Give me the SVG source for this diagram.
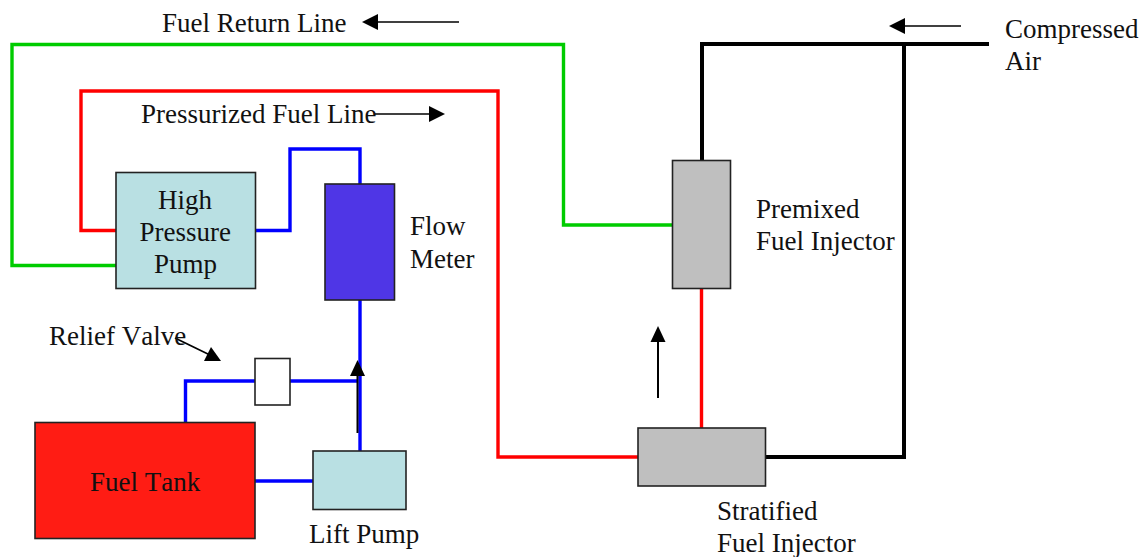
<svg xmlns="http://www.w3.org/2000/svg" width="1144" height="557" viewBox="0 0 1144 557">
<style>
text{font-family:"Liberation Serif","Times New Roman",serif;font-size:27px;fill:#111;font-kerning:none}
.n{stroke:#222;stroke-width:1.6}
.c{fill:none;stroke-width:3.4;stroke-linejoin:miter}
.g{stroke:#00cc00}.r{stroke:#ff0000}.b{stroke:#0000ff}.k{stroke:#000;stroke-width:4}
.a{stroke:#000;stroke-width:1.7;fill:none}
.h{fill:#000}
</style>
<rect width="1144" height="557" fill="#fff"/>
<g id="connectors">
<path class="c g" d="M672 225H563.500V44.500H12V265.500H116"/>
<path class="c r" d="M116 230.500H81V91H498V457H638"/>
<path class="c r" d="M701.500 289V428"/>
<path class="c b" d="M255 230.500H290V149H360V184"/>
<path class="c b" d="M360 300V451"/>
<path class="c b" d="M185.500 422V381H255"/>
<path class="c b" d="M290 381H358"/>
<path class="c b" d="M255 481H313"/>
<path class="c k" d="M702 160V44H989"/>
<path class="c k" d="M904 44V457H766"/>
<g id="flow-arrows">
<path class="a" d="M459 22H375"/><path class="h" d="M362 22L378 14V30Z"/>
<path class="a" d="M375 114H432"/><path class="h" d="M445 114L429 106V122Z"/>
<path class="a" d="M175 338L212 356"/><path class="h" d="M221 361L204 361L211 347Z"/>
<path class="a" d="M357.500 433V370" style="stroke-width:2"/><path class="h" d="M357.500 360L350 376H365Z"/>
<path class="a" d="M658 398V340" style="stroke-width:2"/><path class="h" d="M658 326L650.500 342H665.500Z"/>
<path class="a" d="M961 26H902"/><path class="h" d="M889 26L905 18V34Z"/>
</g>
</g>
<g id="high-pressure-pump"><rect class="n" x="116" y="172.500" width="139.500" height="116" fill="#b9e0e3"/>
<text x="158" y="208.500">High</text><text x="139.500" y="241">Pressure</text><text x="154" y="273">Pump</text></g>
<g id="flow-meter"><rect class="n" x="325" y="184" width="69.500" height="116" fill="#4f36e6"/>
<text x="410" y="235">Flow</text><text x="410" y="268">Meter</text></g>
<g id="relief-valve"><rect class="n" x="255" y="358.500" width="35" height="46.500" fill="#fff"/>
<text x="49" y="345">Relief Valve</text></g>
<g id="fuel-tank"><rect class="n" x="35" y="422.500" width="220" height="116" fill="#ff1c14"/>
<text x="90" y="491">Fuel Tank</text></g>
<g id="lift-pump"><rect class="n" x="313" y="451" width="93" height="58.500" fill="#b9e0e3"/>
<text x="309" y="543">Lift Pump</text></g>
<g id="premixed-injector"><rect class="n" x="672.500" y="160.500" width="58" height="128" fill="#bfbfbf"/>
<text x="756" y="218">Premixed</text><text x="756" y="250">Fuel Injector</text></g>
<g id="stratified-injector"><rect class="n" x="638" y="428" width="127.500" height="58" fill="#bfbfbf"/>
<text x="717" y="520">Stratified</text><text x="717" y="552">Fuel Injector</text></g>
<g id="labels">
<text x="162" y="32">Fuel Return Line</text>
<text x="141" y="123">Pressurized Fuel Line</text>
<text x="1005" y="38">Compressed</text>
<text x="1005" y="70">Air</text>
</g>
</svg>
